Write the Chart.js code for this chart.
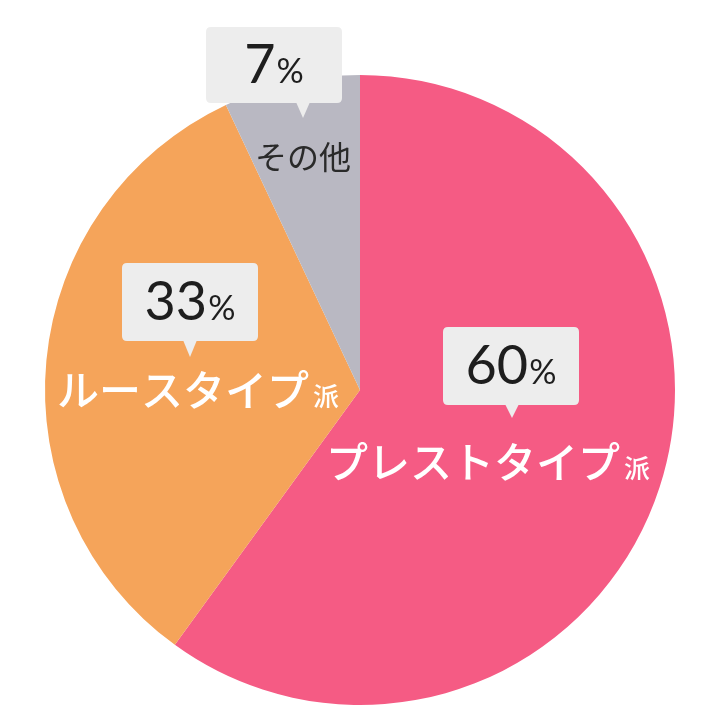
<!DOCTYPE html>
<html lang="ja">
<head>
<meta charset="utf-8">
<title>プレストタイプ派 / ルースタイプ派</title>
<script src="https://cdn.jsdelivr.net/npm/chart.js@4/dist/chart.umd.min.js"></script>
<style>
  html, body { margin: 0; padding: 0; background: #ffffff; }
  #wrap { width: 720px; height: 720px; }
</style>
</head>
<body>
<div id="wrap"><canvas id="pie" width="720" height="720"></canvas></div>
<script>
// Series
const categories = ['プレストタイプ', 'ルースタイプ', 'その他'];
const suffixes = ['派', '派', ''];
const shares = [60, 33, 7];
const sliceColors = ['#F55B84', '#F5A45A', '#B9B8C2'];
const nameColors = ['#FFFFFF', '#FFFFFF', '#2A2A2A'];

// Callout placement for each slice, in pixels relative to the pie centre
// for a 315px radius (scaled with the actual radius at draw time).
const calloutLayout = [
  { box: [151, -24], tip: [152, 28], name: [128, 73], w: 136, h: 78 },
  { box: [-170, -88], tip: [-170, -33], name: [-162, 1], w: 136, h: 78 },
  { box: [-86, -325], tip: [-57, -272], name: [-57, -233], w: 136, h: 76 }
];

function roundRect(ctx, x, y, w, h, r) {
  ctx.beginPath();
  ctx.moveTo(x + r, y);
  ctx.lineTo(x + w - r, y);
  ctx.quadraticCurveTo(x + w, y, x + w, y + r);
  ctx.lineTo(x + w, y + h - r);
  ctx.quadraticCurveTo(x + w, y + h, x + w - r, y + h);
  ctx.lineTo(x + r, y + h);
  ctx.quadraticCurveTo(x, y + h, x, y + h - r);
  ctx.lineTo(x, y + r);
  ctx.quadraticCurveTo(x, y, x + r, y);
  ctx.closePath();
}

const calloutPlugin = {
  id: 'callouts',
  afterDatasetsDraw(chart) {
    const ctx = chart.ctx;
    const meta = chart.getDatasetMeta(0);
    const arc0 = meta.data[0];
    const cx = arc0.x, cy = arc0.y;
    const k = arc0.outerRadius / 315;
    const values = chart.data.datasets[0].data;

    values.forEach((v, i) => {
      const L = calloutLayout[i];
      const bx = cx + L.box[0] * k, by = cy + L.box[1] * k;
      const w = L.w * k, h = L.h * k;
      const tx = cx + L.tip[0] * k, ty = cy + L.tip[1] * k;

      // speech-bubble box with a downward pointer
      ctx.save();
      ctx.fillStyle = '#EDEDED';
      roundRect(ctx, bx - w / 2, by - h / 2, w, h, 5 * k);
      ctx.fill();
      ctx.beginPath();
      ctx.moveTo(tx - 7 * k, by + h / 2 - 1);
      ctx.lineTo(tx + 7 * k, by + h / 2 - 1);
      ctx.lineTo(tx, ty);
      ctx.closePath();
      ctx.fill();

      // value: large digits followed by a smaller percent sign
      const numFont = `400 ${Math.round(54 * k)}px Lato, "Noto Sans", sans-serif`;
      const pctFont = `400 ${Math.round(34 * k)}px Lato, "Noto Sans", sans-serif`;
      const num = String(v);
      ctx.font = numFont;
      const nw = ctx.measureText(num).width;
      ctx.font = pctFont;
      const pw = ctx.measureText('%').width;
      const gap = 1 * k;
      const startX = bx - (nw + gap + pw) / 2;
      const base = by + 18 * k;
      ctx.fillStyle = '#1E1E1E';
      ctx.textBaseline = 'alphabetic';
      ctx.textAlign = 'left';
      ctx.font = numFont;
      ctx.fillText(num, startX, base);
      ctx.font = pctFont;
      ctx.fillText('%', startX + nw + gap, base);

      // category name with a small trailing suffix
      const nx = cx + L.name[0] * k, ny = cy + L.name[1] * k;
      const big = i === 2 ? 32 : 42;
      const weight = i === 2 ? 400 : 500;
      const nameFont = `${weight} ${Math.round(big * k)}px "Noto Sans CJK JP", sans-serif`;
      const sufFont = `${weight} ${Math.round(26 * k)}px "Noto Sans CJK JP", sans-serif`;
      ctx.font = nameFont;
      const tw = ctx.measureText(categories[i]).width;
      ctx.font = sufFont;
      const sw = suffixes[i] ? ctx.measureText(suffixes[i]).width + 4 * k : 0;
      const sx = nx - (tw + sw) / 2;
      const nb = ny + big * 0.36 * k;
      ctx.fillStyle = nameColors[i];
      ctx.font = nameFont;
      ctx.fillText(categories[i], sx, nb);
      if (suffixes[i]) {
        ctx.font = sufFont;
        ctx.fillText(suffixes[i], sx + tw + 4 * k, nb);
      }
      ctx.restore();
    });
  }
};

new Chart(document.getElementById('pie'), {
  type: 'pie',
  data: {
    labels: categories,
    datasets: [{
      data: shares,
      backgroundColor: sliceColors,
      borderWidth: 0
    }]
  },
  options: {
    responsive: false,
    animation: false,
    layout: { padding: { top: 75, bottom: 15, left: 45, right: 45 } },
    plugins: {
      legend: { display: false },
      tooltip: { enabled: false }
    }
  },
  plugins: [calloutPlugin]
});
</script>
</body>
</html>
